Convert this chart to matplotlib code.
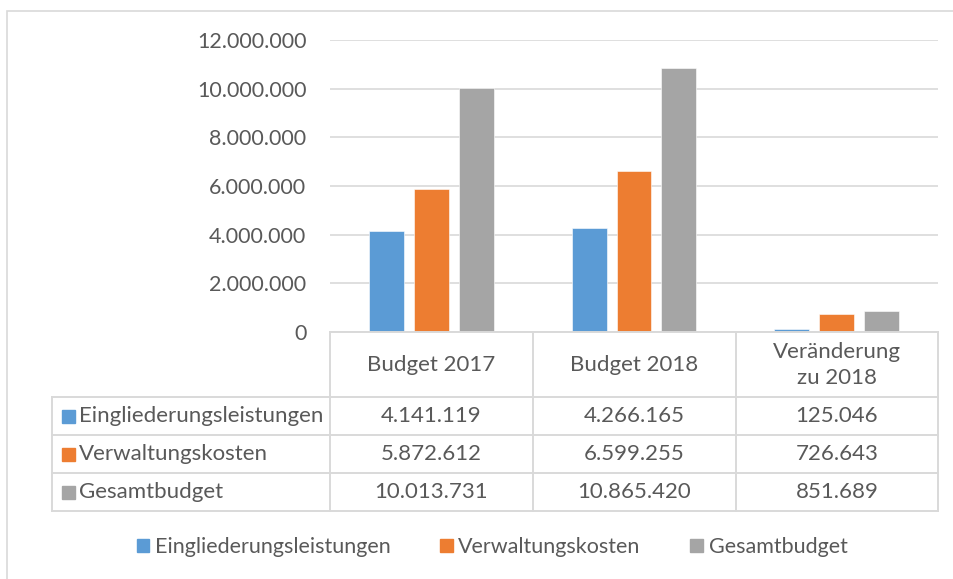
import numpy as np
import matplotlib.pyplot as plt
from matplotlib.lines import Line2D
from matplotlib.patches import Rectangle

plt.rcParams['font.family'] = ['Lato', 'DejaVu Sans']

categories = ["Budget 2017", "Budget 2018", "Veränderung\nzu 2018"]
series_names = ["Eingliederungsleistungen", "Verwaltungskosten", "Gesamtbudget"]
eingliederung = [4141119, 4266165, 125046]
verwaltung = [5872612, 6599255, 726643]
gesamt = [10013731, 10865420, 851689]
colors = ["#5B9BD5", "#ED7D31", "#A5A5A5"]
yticks = [0, 2000000, 4000000, 6000000, 8000000, 10000000, 12000000]

text_col = "#595959"
grid_col = "#D9D9D9"
fs = 16
W, H = 954, 579


def fx(x):
    return x / W


def fy(y):
    return 1 - y / H


def fmt(v):
    return "{:,}".format(v).replace(",", ".")


fig = plt.figure(figsize=(W / 100, H / 100), dpi=100)

# outer chart border
fig.add_artist(Rectangle((fx(7), fy(620)), fx(1000) - fx(7), fy(11) - fy(620),
                         transform=fig.transFigure, fill=False,
                         edgecolor=grid_col, linewidth=1.2))

ax_left, ax_right, ax_top, ax_bottom = 330, 938, 40, 332
ax = fig.add_axes([fx(ax_left), fy(ax_bottom), fx(ax_right) - fx(ax_left), fy(ax_top) - fy(ax_bottom)])

x = np.arange(len(categories))
bw = 35 / 202.7
off = 45 / 202.7
all_series = [eingliederung, verwaltung, gesamt]
for i, vals in enumerate(all_series):
    ax.bar(x + (i - 1) * off, vals, bw, color=colors[i], edgecolor="white", linewidth=0.4, zorder=3)

ax.set_xlim(-0.5, 2.5)
ax.set_ylim(0, 12000000)
ax.set_yticks(yticks)
ax.set_yticklabels([fmt(v) for v in yticks], fontsize=15.5, color=text_col)
ax.tick_params(axis='y', length=0, pad=17)
ax.set_xticks([])
ax.grid(axis='y', color=grid_col, linewidth=1.2, zorder=0)
for s in ax.spines.values():
    s.set_visible(False)

# data table
col_x = [330, 533, 736, 938]
row_y = [332, 397, 435, 473, 511]
lk = dict(color=grid_col, linewidth=1.4, transform=fig.transFigure)
fig.add_artist(Line2D([fx(330), fx(938)], [fy(332), fy(332)], **lk))
for yy in row_y[1:]:
    fig.add_artist(Line2D([fx(52), fx(938)], [fy(yy), fy(yy)], **lk))
for xx in col_x:
    fig.add_artist(Line2D([fx(xx), fx(xx)], [fy(332), fy(511)], **lk))
fig.add_artist(Line2D([fx(52), fx(52)], [fy(397), fy(511)], **lk))

for j, cat in enumerate(categories):
    cx = (col_x[j] + col_x[j + 1]) / 2
    fig.text(fx(cx), fy(365), cat, ha='center', va='center', fontsize=fs,
             color=text_col, linespacing=1.4)

for i, vals in enumerate(all_series):
    cy = (row_y[i + 1] + row_y[i + 2]) / 2
    fig.add_artist(Rectangle((fx(62), fy(cy + 6.5)), fx(13), fy(0) - fy(13),
                             transform=fig.transFigure, color=colors[i]))
    fig.text(fx(79), fy(cy), series_names[i], ha='left', va='center',
             fontsize=fs, color=text_col)
    for j, v in enumerate(vals):
        cx = (col_x[j] + col_x[j + 1]) / 2
        fig.text(fx(cx), fy(cy), fmt(v), ha='center', va='center',
                 fontsize=fs, color=text_col)

# legend
handles = [Rectangle((0, 0), 1, 1, color=c) for c in colors]
fig.legend(handles, series_names, loc='center', bbox_to_anchor=(fx(492), fy(547)),
           ncol=3, frameon=False, fontsize=15.5, labelcolor=text_col,
           handlelength=0.6, handleheight=0.6, handletextpad=0.25, columnspacing=2.3)

fig.savefig("out.png", dpi=100)
